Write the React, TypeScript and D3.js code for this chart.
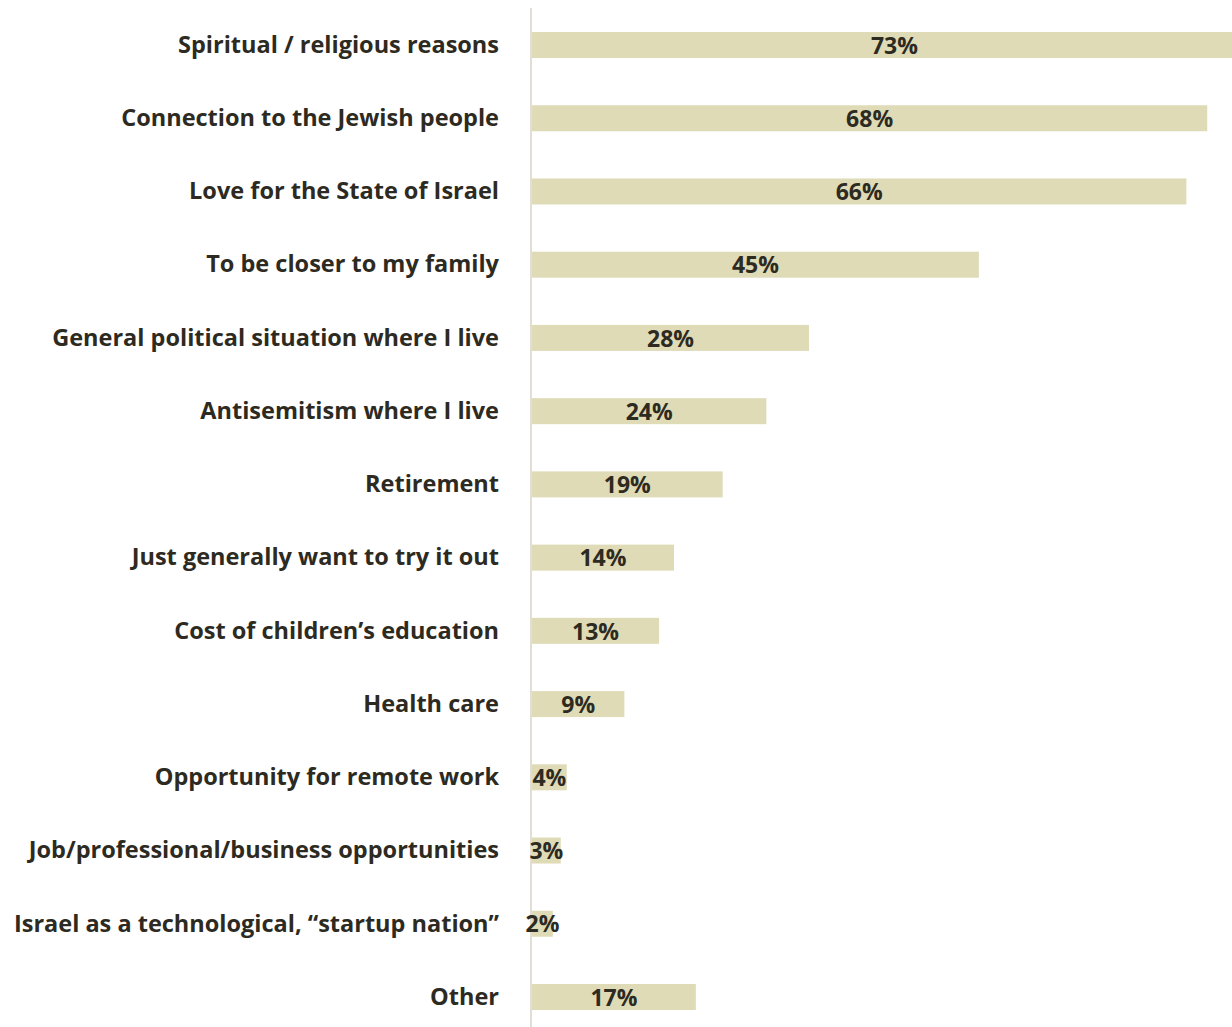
import React from "react";
import * as d3 from "d3";

const categories = [
  "Spiritual / religious reasons",
  "Connection to the Jewish people",
  "Love for the State of Israel",
  "To be closer to my family",
  "General political situation where I live",
  "Antisemitism where I live",
  "Retirement",
  "Just generally want to try it out",
  "Cost of children\u2019s education",
  "Health care",
  "Opportunity for remote work",
  "Job/professional/business opportunities",
  "Israel as a technological, \u201cstartup nation\u201d",
  "Other",
];

const values = [73, 68, 65.9, 45, 27.9, 23.6, 19.2, 14.3, 12.8, 9.3, 3.5, 2.9, 2.1, 16.5];

const W = 1232;
const H = 1027;

export default function App() {
  const x = d3.scaleLinear().domain([0, 100]).range([532, 532 + 993]);
  const y = d3
    .scaleBand<string>()
    .domain(categories)
    .range([8.4, 1033.6])
    .paddingInner(0.645)
    .paddingOuter(0.3225);
  const fmt = (v: number) => `${Math.round(v)}%`;
  const font = "'Open Sans', Lato, sans-serif";
  const textColor = "#2d2a21";
  return (
    <svg
      width={W}
      height={H}
      style={{ position: "absolute", left: 0, top: 0, background: "#fff" }}
    >
      <line x1={531} x2={531} y1={8} y2={H} stroke="#e2ded4" strokeWidth={2} />
      {categories.map((c, i) => {
        const yc = (y(c) as number) + y.bandwidth() / 2;
        const x0 = x(0);
        const x1 = x(values[i]);
        return (
          <g key={c}>
            <rect x={x0} y={y(c)} width={x1 - x0} height={y.bandwidth()} fill="#dfdbb7" />
            <text
              x={499}
              y={yc}
              dy="0.33em"
              textAnchor="end"
              fontFamily={font}
              fontWeight={700}
              fontSize={23.5}
              fill={textColor}
            >
              {c}
            </text>
            <text
              x={(x0 + x1) / 2}
              y={yc}
              dy="0.38em"
              textAnchor="middle"
              fontFamily={font}
              fontWeight={700}
              fontSize={23}
              fill={textColor}
            >
              {fmt(values[i])}
            </text>
          </g>
        );
      })}
    </svg>
  );
}
